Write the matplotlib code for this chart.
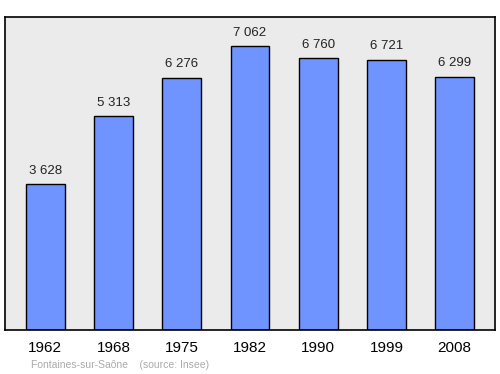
import matplotlib.pyplot as plt

years = ["1962", "1968", "1975", "1982", "1990", "1999", "2008"]
population = [3628, 5313, 6276, 7062, 6760, 6721, 6299]
labels = ["3 628", "5 313", "6 276", "7 062", "6 760", "6 721", "6 299"]

plt.rcParams["font.family"] = ["Liberation Sans", "DejaVu Sans"]

fig = plt.figure(figsize=(5, 3.74), dpi=100)
ax = fig.add_axes([5 / 500, 1 - 330 / 374, 490 / 500, 313 / 374])
ax.set_facecolor("#ebebeb")

x = range(len(years))
ax.bar(x, population, width=0.57, color="#6f94ff", edgecolor="black", linewidth=1, zorder=2)
for xi, v, lab in zip(x, population, labels):
    ax.text(xi, v + 180, lab, ha="center", va="bottom", fontsize=9.5, color="#222222")

ax.set_xlim(-0.59, 6.59)
ax.set_ylim(0, 7780)
ax.set_xticks(list(x))
ax.set_xticklabels(years, fontsize=11)
ax.tick_params(axis="x", length=0, pad=8)
ax.set_yticks([])
for s in ax.spines.values():
    s.set_linewidth(1.2)

fig.text(31 / 500, 1 - 365 / 374, "Fontaines-sur-Saône    (source: Insee)",
         fontsize=7.5, color="#aaaaaa", va="center")

fig.savefig("out.png", dpi=100)
